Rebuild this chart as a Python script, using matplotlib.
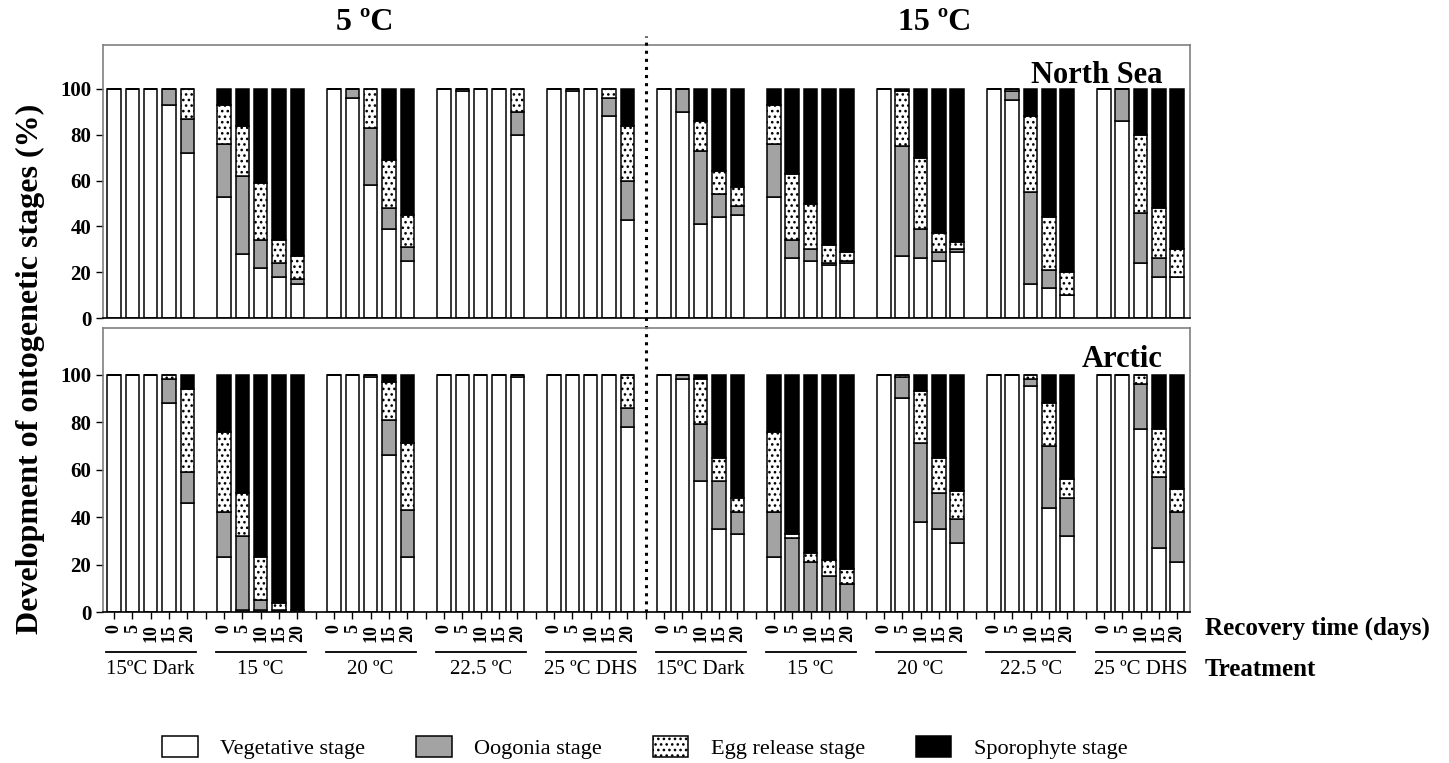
import numpy as np
import matplotlib.pyplot as plt
from matplotlib.patches import Patch
from matplotlib.transforms import blended_transform_factory

plt.rcParams['font.family'] = ['Liberation Serif', 'DejaVu Serif']
plt.rcParams['hatch.linewidth'] = 1.1

# ---- data (percent of each stage), 10 treatments x 5 recovery days ----
treatments = ["15ºC Dark", "15 ºC", "20 ºC", "22.5 ºC", "25 ºC DHS"] * 2
days = ["0", "5", "10", "15", "20"]
stages = ["Vegetative stage", "Oogonia stage", "Egg release stage", "Sporophyte stage"]

# North Sea
ns_veg = [100, 100, 100, 93, 72,   53, 28, 22, 18, 15,   100, 96, 58, 39, 25,
          100, 99, 100, 100, 80,   100, 99, 100, 88, 43,
          100, 90, 41, 44, 45,    53, 26, 25, 23, 24,    100, 27, 26, 25, 29,
          100, 95, 15, 13, 10,    100, 86, 24, 18, 18]
ns_oog = [0, 0, 0, 7, 15,         23, 34, 12, 6, 2,      0, 4, 25, 9, 6,
          0, 1, 0, 0, 10,         0, 1, 0, 8, 17,
          0, 10, 32, 10, 4,       23, 8, 5, 1, 1,        0, 48, 13, 4, 1,
          0, 4, 40, 8, 0,         0, 14, 22, 8, 0]
ns_egg = [0, 0, 0, 0, 13,         17, 22, 25, 10, 10,    0, 0, 17, 21, 14,
          0, 0, 0, 0, 10,         0, 0, 0, 4, 24,
          0, 0, 13, 10, 8,        17, 29, 20, 8, 4,      0, 24, 31, 8, 3,
          0, 1, 33, 23, 10,       0, 0, 34, 22, 12]
ns_spo = [0, 0, 0, 0, 0,          7, 16, 41, 66, 73,     0, 0, 0, 31, 55,
          0, 0, 0, 0, 0,          0, 0, 0, 0, 16,
          0, 0, 14, 36, 43,       7, 37, 50, 68, 71,     0, 1, 30, 63, 67,
          0, 0, 12, 56, 80,       0, 0, 20, 52, 70]

# Arctic
ar_veg = [100, 100, 100, 88, 46,  23, 1, 1, 1, 0,        100, 100, 99, 66, 23,
          100, 100, 100, 100, 99, 100, 100, 100, 100, 78,
          100, 98, 55, 35, 33,    23, 0, 0, 0, 0,        100, 90, 38, 35, 29,
          100, 100, 95, 44, 32,   100, 100, 77, 27, 21]
ar_oog = [0, 0, 0, 10, 13,        19, 31, 4, 0, 0,       0, 0, 1, 15, 20,
          0, 0, 0, 0, 1,          0, 0, 0, 0, 8,
          0, 2, 24, 20, 9,        19, 31, 21, 15, 12,    0, 9, 33, 15, 10,
          0, 0, 3, 26, 16,        0, 0, 19, 30, 21]
ar_egg = [0, 0, 0, 2, 35,         34, 18, 18, 3, 1,      0, 0, 0, 16, 28,
          0, 0, 0, 0, 0,          0, 0, 0, 0, 14,
          0, 0, 19, 10, 6,        34, 2, 4, 7, 6,        0, 1, 22, 15, 12,
          0, 0, 2, 18, 8,         0, 0, 4, 20, 10]
ar_spo = [0, 0, 0, 0, 6,          24, 50, 77, 96, 99,    0, 0, 0, 3, 29,
          0, 0, 0, 0, 0,          0, 0, 0, 0, 0,
          0, 0, 2, 35, 52,        24, 67, 75, 78, 82,    0, 0, 7, 35, 49,
          0, 0, 0, 12, 44,        0, 0, 0, 23, 48]

colors = ["white", "#a3a3a3", "white", "black"]
hatches = [None, None, "...", None]

# bar positions: 5 bars per treatment, one empty slot between treatments
xpos = np.array([g * 6 + j for g in range(10) for j in range(5)])

fig = plt.figure(figsize=(14.49, 7.63), dpi=100)
ax_top = fig.add_axes([0.0711, 0.5832, 0.7502, 0.3578])
ax_bot = fig.add_axes([0.0711, 0.1979, 0.7502, 0.3722])


def draw_panel(ax, series, ymax, name):
    bottom = np.zeros(len(xpos))
    for vals, col, hat in zip(series, colors, hatches):
        vals = np.array(vals, dtype=float)
        ax.bar(xpos, vals, 0.74, bottom=bottom, color=col, edgecolor="black",
               linewidth=1.1, hatch=hat)
        bottom += vals
    ax.set_xlim(-0.6, 58.7)
    ax.set_ylim(0, ymax)
    ax.set_yticks([0, 20, 40, 60, 80, 100])
    ax.tick_params(axis="y", labelsize=15, length=5, width=1)
    for lab in ax.get_yticklabels():
        lab.set_fontweight("bold")
    for s in ["top", "right", "left"]:
        ax.spines[s].set_color("#808080")
        ax.spines[s].set_linewidth(1.2)
    ax.spines["bottom"].set_linewidth(1.2)
    ax.text(0.975, 0.89, name, transform=ax.transAxes, ha="right", va="center",
            fontsize=22, fontweight="bold")


draw_panel(ax_top, [ns_veg, ns_oog, ns_egg, ns_spo], 119.2, "North Sea")
draw_panel(ax_bot, [ar_veg, ar_oog, ar_egg, ar_spo], 119.6, "Arctic")

# dotted separator between 5 ºC and 15 ºC, through both panels
ax_bot.axvline(29, ymin=0, ymax=2.03, color="black", ls=":", lw=2.2,
               clip_on=False)

ax_top.tick_params(axis="x", bottom=False, labelbottom=False)

ticks = list(range(59))
ticklabels = [days[t % 6] if t % 6 < 5 else "" for t in ticks]
ax_bot.set_xticks(ticks)
ax_bot.set_xticklabels(ticklabels, rotation=90, fontsize=13, fontweight="bold")
ax_bot.tick_params(axis="x", length=5, width=1)

# treatment underlines and labels
trans = blended_transform_factory(ax_bot.transData, fig.transFigure)
for g, name in enumerate(treatments):
    ax_bot.plot([g * 6 - 0.45, g * 6 + 4.45], [0.1455, 0.1455], color="black",
                lw=1.3, transform=trans, clip_on=False)
    ax_bot.text(g * 6 + 2, 0.122, name, transform=trans, ha="center",
                va="center", fontsize=15)

fig.text(0.8316, 0.177, "Recovery time (days)", ha="left", va="center",
         fontsize=18, fontweight="bold")
fig.text(0.8316, 0.122, "Treatment", ha="left", va="center",
         fontsize=18, fontweight="bold")

fig.text(365 / 1449, 1 - 22 / 763, "5 ºC", ha="center", va="center",
         fontsize=23, fontweight="bold")
fig.text(935 / 1449, 1 - 22 / 763, "15 ºC", ha="center", va="center",
         fontsize=23, fontweight="bold")
fig.text(0.021, 0.517, "Development of ontogenetic stages (%)", rotation=90,
         ha="center", va="center", fontsize=23, fontweight="bold")

handles = [Patch(facecolor=c, edgecolor="black", hatch=h, linewidth=1.1)
           for c, h in zip(colors, hatches)]
fig.legend(handles, stages, loc="center", bbox_to_anchor=(0.445, 0.02),
           ncol=4, frameon=False, fontsize=16, handlelength=1.6,
           handleheight=1.1, columnspacing=2.3, handletextpad=1.0)

fig.savefig("out.png", dpi=100)
